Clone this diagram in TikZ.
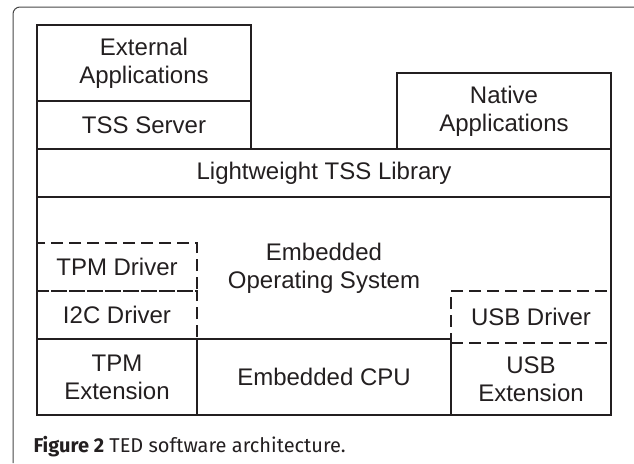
\documentclass[tikz,border=0pt]{standalone}
\usepackage{fontspec}
\setmainfont{Liberation Sans}
\newfontfamily\capfont{Fira Sans}
\usetikzlibrary{positioning}
\definecolor{ink}{RGB}{35,31,32}
\definecolor{framegray}{RGB}{70,70,70}

\begin{document}
\begin{tikzpicture}[x=1pt,y=-1pt,
    layer/.style={draw=ink,line width=1.4pt,inner sep=0pt,outer sep=0pt,align=center,
        anchor=north west,text=ink,font=\fontsize{24}{28}\selectfont},
    plain/.style={layer,draw=none},
    driver/.style={layer,dash pattern=on 12pt off 6pt},
    edge/.style={draw=ink,line width=1.4pt}]

    \useasboundingbox (0,0) rectangle (634,463);
    \draw[framegray,line width=1pt,rounded corners=7pt] (634,7) -- (13,7) -- (13,463);

    \node[layer, minimum width=214pt, minimum height=76pt] (extapp) at (37,25) {External\\Applications};
    \node[layer, minimum width=214pt, minimum height=48pt, below=0pt of extapp] (tss) {TSS Server};
    \node[layer, minimum width=214pt, minimum height=76pt] (native) at (397,73) {Native\\Applications};
    \node[layer, minimum width=574pt, minimum height=48pt] (lib) at (37,149) {Lightweight TSS Library};
    \node[plain, minimum width=574pt, minimum height=142pt, below=0pt of lib] (os) {Embedded\\Operating System};

    \node[driver, minimum width=160pt, minimum height=48pt] (tpmdrv) at (37,243) {TPM Driver};
    \node[driver, minimum width=160pt, minimum height=48pt, below=0pt of tpmdrv] (i2c) {I2C Driver};
    \node[driver, minimum width=160pt, minimum height=52pt] (usbdrv) at (451,291) {USB Driver};

    \node[layer, minimum width=160pt, minimum height=76pt] (tpmext) at (37,339) {TPM\\Extension};
    \node[layer, minimum width=254pt, minimum height=76pt, right=0pt of tpmext] (cpu) {Embedded CPU};
    \node[plain, minimum width=160pt, minimum height=72pt, below=0pt of usbdrv] (usbext) {USB\\Extension};

    \path[edge] (usbext.north west) -- (usbext.south west) -- (usbext.south east)
        -- (os.north east) -- (os.north west) -- (os.south west);

    \node[anchor=base west, text=ink, font=\capfont\fontsize{20}{23}\selectfont] (caption) at (30,452)
        {\textbf{Figure 2} TED software architecture.};
\end{tikzpicture}
\end{document}
